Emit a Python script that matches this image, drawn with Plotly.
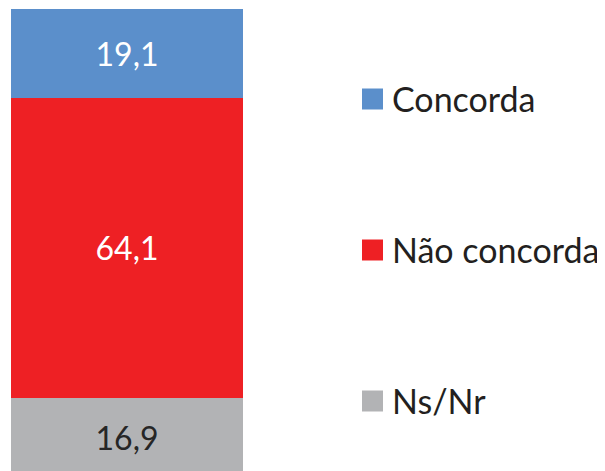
import plotly.graph_objects as go

categories = ["Ns/Nr", "Não concorda", "Concorda"]
values = [16.9, 64.1, 19.1]
colors = ["#B2B3B5", "#EE2024", "#5B8FCB"]
text_colors = ["#262626", "#FFFFFF", "#FFFFFF"]

# the page body adds 8px around the figure
OFF = 8
W, H = 605, 471
ML, MT = 11 - OFF, 9 - OFF
PW, PH = W - ML, H - MT
SCALE = 4.67  # px per unit


def px_x(x):
    return (x - OFF - ML) / PW


def px_y(y):
    return (H - (y - OFF)) / PH


fig = go.Figure()

for cat, val, col, tcol in zip(categories, values, colors, text_colors):
    fig.add_trace(go.Bar(
        x=[0],
        y=[val],
        name=cat,
        marker=dict(color=col, line=dict(width=0)),
        width=1,
        texttemplate="%{y:.1f}",
        textposition="inside",
        insidetextanchor="middle",
        textangle=0,
        textfont=dict(color=tcol, size=32, family="Lato"),
        showlegend=False,
        hoverinfo="skip",
    ))

# legend drawn by hand, to get the big square markers
legend_y = [401, 250, 99]
for cat, col, yc in zip(categories, colors, legend_y):
    fig.add_shape(
        type="rect", xref="paper", yref="paper",
        x0=px_x(362), x1=px_x(383),
        y0=px_y(yc + 10.5), y1=px_y(yc - 10.5),
        fillcolor=col, line=dict(width=0),
    )
    fig.add_annotation(
        x=px_x(390), y=px_y(yc - 1), xref="paper", yref="paper",
        text=cat, showarrow=False, xanchor="left", yanchor="middle",
        font=dict(size=34, color="#231F20", family="Lato"),
    )

top = sum(values)
fig.update_layout(
    width=W,
    height=H,
    barmode="stack",
    separators=",.",
    margin=dict(l=ML, r=0, t=MT, b=0),
    paper_bgcolor="white",
    plot_bgcolor="white",
    xaxis=dict(domain=[0, px_x(243)], range=[-0.5, 0.5], visible=False),
    yaxis=dict(range=[top - PH / SCALE, top], visible=False),
    uniformtext=dict(minsize=10, mode="show"),
)

fig.write_html("out.html")
